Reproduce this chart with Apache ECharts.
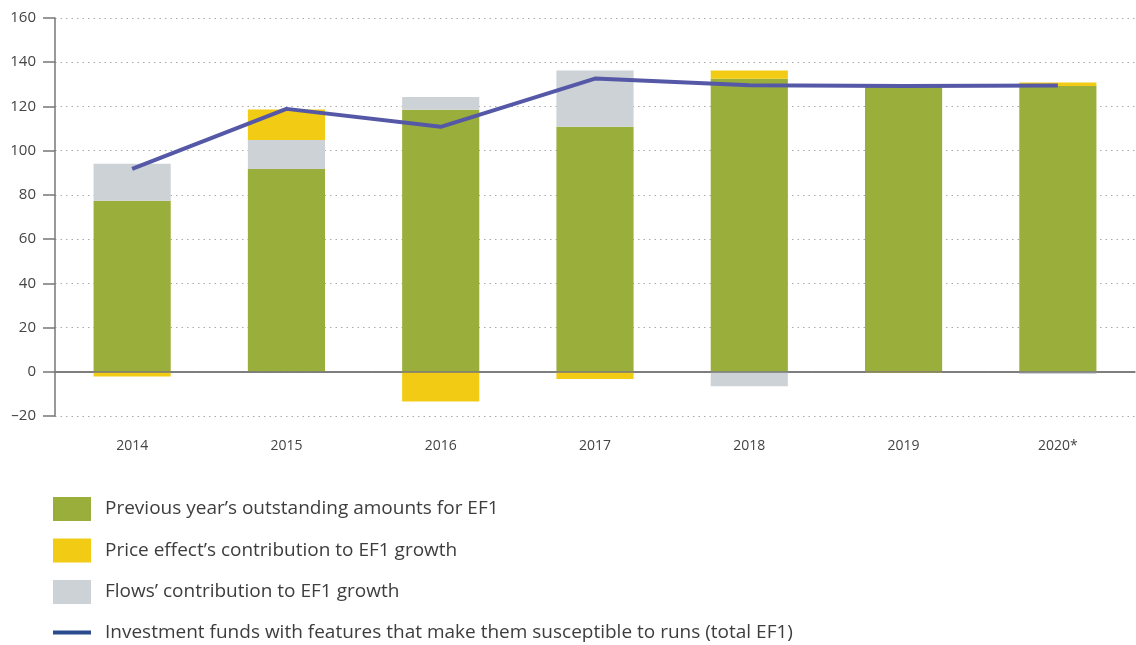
<!DOCTYPE html>
<html>
<head>
<meta charset="utf-8">
<script src="https://cdn.jsdelivr.net/npm/echarts@6/dist/echarts.min.js"></script>
<style>
html,body{margin:0;padding:0;background:#fff;}
#chart{width:1136px;height:645px;}
</style>
</head>
<body>
<div id="chart"></div>
<script>
const categories = ['2014','2015','2016','2017','2018','2019','2020*'];
const previousYear = [77.4, 91.7, 118.5, 110.8, 132.5, 129.6, 129.2];
const flows = [16.7, 13.1, 5.8, 25.5, -6.6, 0.2, -1.0];
const priceEffect = [-2.1, 13.8, -13.4, -3.3, 3.8, -0.6, 1.6];
const totalEF1 = [91.8, 118.9, 110.8, 132.6, 129.6, 129.3, 129.5];
const yTicks = {min: -20, max: 160, interval: 20};

const names = {
  prev: 'Previous year\u2019s outstanding amounts for EF1',
  price: 'Price effect\u2019s contribution to EF1 growth',
  flows: 'Flows\u2019 contribution to EF1 growth',
  total: 'Investment funds with features that make them susceptible to runs (total EF1)'
};

const chart = echarts.init(document.getElementById('chart'), null, {renderer: 'canvas'});
const font = '"Open Sans", "Noto Sans", sans-serif';
chart.setOption({
  animation: false,
  textStyle: {fontFamily: font},
  grid: {left: 55, right: 1, top: 18, bottom: 229, containLabel: false},
  legend: [{
    orient: 'vertical', left: 53, top: 497, padding: 0,
    itemWidth: 38, itemHeight: 24, itemGap: 17.5,
    icon: 'rect',
    textStyle: {fontSize: 19, color: '#3d3d3d', fontFamily: font, padding: [0,0,0,9]},
    data: [names.prev, names.price, names.flows],
    selectedMode: false
  },{
    orient: 'vertical', left: 53, top: 623, padding: 0,
    itemWidth: 38, itemHeight: 4,
    icon: 'rect',
    textStyle: {fontSize: 19, color: '#3d3d3d', fontFamily: font, padding: [0,0,0,9]},
    data: [{name: names.total, itemStyle: {color: '#2a4b8d'}}],
    selectedMode: false
  }],
  xAxis: {
    type: 'category',
    data: categories,
    boundaryGap: true,
    axisLine: {lineStyle: {color: '#777', width: 1.5}},
    axisTick: {inside: true, length: 13, interval: 0, lineStyle: {color: '#777', width: 1.5}},
    axisLabel: {margin: 23, fontSize: 14, color: '#444', fontFamily: font}
  },
  yAxis: {
    type: 'value',
    min: yTicks.min, max: yTicks.max, interval: yTicks.interval,
    axisLine: {show: true, lineStyle: {color: '#777', width: 1.5}},
    axisTick: {show: true, length: 12, lineStyle: {color: '#777', width: 1.5}},
    axisLabel: {margin: 19, fontSize: 15, color: '#444', fontFamily: font,
      formatter: v => String(v).replace('-', '\u2013')},
    splitLine: {show: true, lineStyle: {color: '#aaa', type: [1.5, 4], width: 1.2}}
  },
  series: [
    {
      name: names.prev, type: 'bar', stack: 'ef', barWidth: '50%',
      itemStyle: {color: '#9aae3b'},
      data: previousYear,
      markLine: {
        silent: true, symbol: 'none', label: {show: false},
        lineStyle: {color: '#777', type: 'solid', width: 1.5},
        data: [{yAxis: 0}]
      }
    },
    {
      name: names.flows, type: 'bar', stack: 'ef', barWidth: '50%',
      itemStyle: {color: '#cdd2d6'},
      data: flows
    },
    {
      name: names.price, type: 'bar', stack: 'ef', barWidth: '50%',
      itemStyle: {color: '#f2cb14'},
      data: priceEffect
    },
    {
      name: names.total, type: 'line',
      data: totalEF1,
      symbol: 'none',
      lineStyle: {color: '#5558a6', width: 4},
      itemStyle: {color: '#5558a6'},
      z: 5
    }
  ]
});
</script>
</body>
</html>
